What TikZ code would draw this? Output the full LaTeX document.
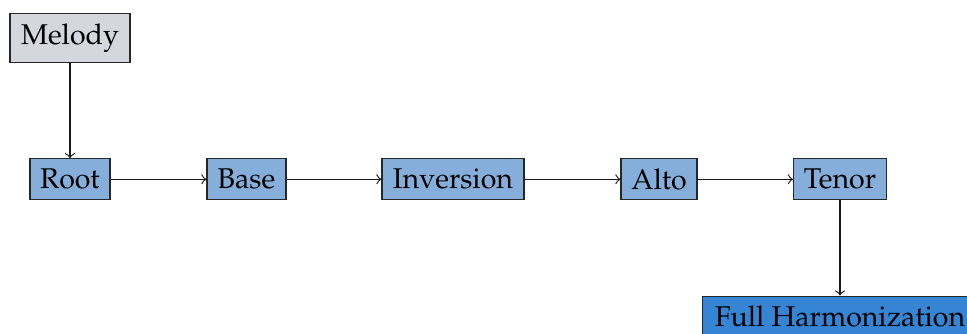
\documentclass[tikz,border=0pt]{standalone}
\usepackage[T1]{fontenc}
\renewcommand{\rmdefault}{ppl}
\definecolor{melodyfill}{RGB}{212,216,222}
\definecolor{voicefill}{RGB}{133,175,218}
\definecolor{fullfill}{RGB}{54,132,212}
\begin{document}
\begin{tikzpicture}[x=0.35pt,y=-0.35pt,
  box/.style={draw=black!85, line width=0.4pt, inner sep=0pt, minimum height=14.35pt, fill=voicefill},
  link/.style={->, line width=0.4pt, black!90}]
\useasboundingbox (0,0) rectangle (967,333);
\node[box, fill=melodyfill, minimum width=42pt, minimum height=17.15pt] (melody) at (70,37.7) {Melody};
\node[box, minimum width=28pt] (root) at (70,179.3) {Root};
\node[box, minimum width=27.65pt] (base) at (246.5,179.3) {Base};
\node[box, minimum width=49.7pt] (inversion) at (453,179.3) {Inversion};
\node[box, minimum width=26.6pt] (alto) at (659,179.3) {Alto};
\node[box, minimum width=32.55pt] (tenor) at (840,179.3) {Tenor};
\node[box, fill=fullfill, minimum width=96.1pt] (full) at (840,316.6) {Full Harmonization};
\draw[link] (melody) -- (root);
\draw[link] (root) -- (base);
\draw[link] (base) -- (inversion);
\draw[link] (inversion) -- (alto);
\draw[link] (alto) -- (tenor);
\draw[link] (tenor) -- (full);
\end{tikzpicture}
\end{document}
